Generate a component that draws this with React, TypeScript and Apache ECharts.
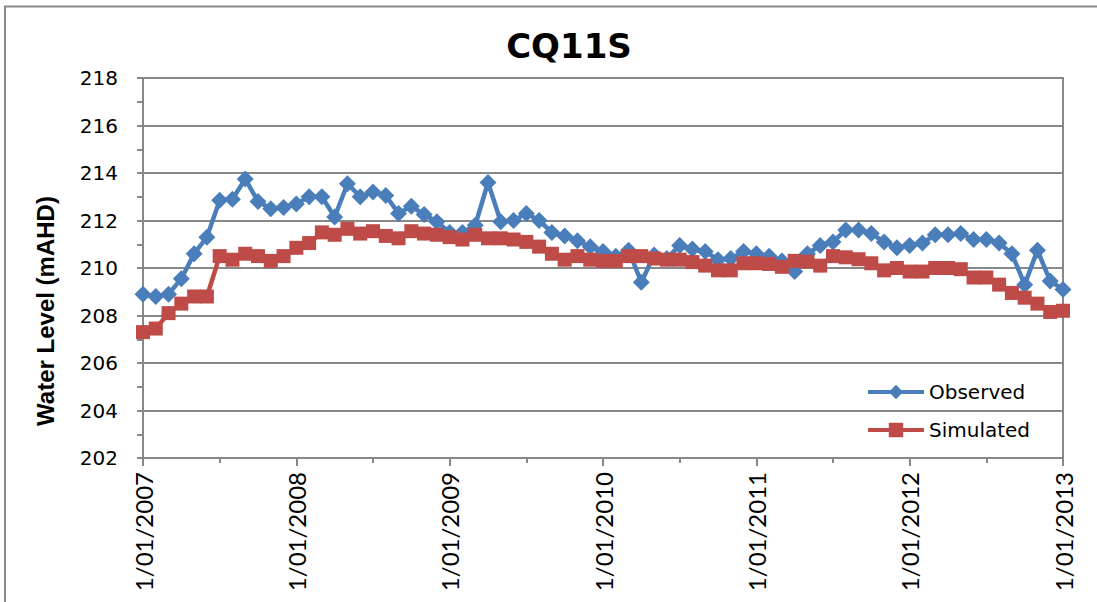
import React, { useEffect, useRef } from "react";
import * as echarts from "echarts";

const startYear = 2007;
const yearLabels = ["1/01/2007", "1/01/2008", "1/01/2009", "1/01/2010", "1/01/2011", "1/01/2012", "1/01/2013"];

const observed = [
  208.9, 208.8, 208.9, 209.55, 210.6, 211.3, 212.85, 212.9, 213.75, 212.8, 212.5, 212.55,
  212.7, 213.0, 213.0, 212.15, 213.55, 213.0, 213.2, 213.05, 212.3, 212.6, 212.25, 211.95,
  211.5, 211.5, 211.8, 213.6, 211.95, 212.0, 212.3, 212.0, 211.5, 211.35, 211.15, 210.9,
  210.7, 210.5, 210.75, 209.4, 210.55, 210.4, 210.95, 210.8, 210.7, 210.35, 210.4, 210.7,
  210.6, 210.5, 210.3, 209.85, 210.6, 210.95, 211.1, 211.6, 211.6, 211.45, 211.1, 210.85,
  210.95, 211.05, 211.4, 211.4, 211.45, 211.2, 211.2, 211.05, 210.6, 209.3, 210.75, 209.45,
  209.1,
];

const simulated = [
  207.3, 207.45, 208.1, 208.5, 208.8, 208.8, 210.5, 210.35, 210.6, 210.5, 210.3, 210.5,
  210.85, 211.05, 211.5, 211.4, 211.65, 211.45, 211.55, 211.35, 211.25, 211.55, 211.45, 211.4,
  211.3, 211.2, 211.4, 211.25, 211.25, 211.2, 211.1, 210.9, 210.6, 210.35, 210.5, 210.35,
  210.3, 210.3, 210.5, 210.5, 210.4, 210.35, 210.35, 210.25, 210.1, 209.9, 209.9, 210.2,
  210.2, 210.17, 210.05, 210.3, 210.27, 210.1, 210.5, 210.45, 210.37, 210.2, 209.9, 210.0,
  209.85, 209.85, 210.0, 210.0, 209.95, 209.6, 209.6, 209.3, 208.95, 208.75, 208.5, 208.15,
  208.2,
];

const GRAY = "#888888";
const BLUE = "#4A7EBB";
const RED = "#BE4B48";

export default function App() {
  const ref = useRef<HTMLDivElement>(null);
  useEffect(() => {
    if (!ref.current) return;
    const chart = echarts.init(ref.current, null, { renderer: "svg" });
    const toPairs = (arr: number[]) => arr.map((v, i) => [i, v]);
    chart.setOption({
      animation: false,
      backgroundColor: "#ffffff",
      grid: {
        left: 143,
        right: 34,
        top: 78,
        bottom: 144,
        show: true,
        borderColor: GRAY,
        borderWidth: 2,
      },
      xAxis: {
        type: "value",
        min: 0,
        max: 72,
        interval: 12,
        axisLine: { show: true, lineStyle: { color: GRAY, width: 2 } },
        axisTick: { show: true, length: 8, lineStyle: { color: GRAY, width: 2 } },
        minorTick: { show: true, splitNumber: 2, length: 5, lineStyle: { color: GRAY, width: 2 } },
        splitLine: { show: false },
        axisLabel: {
          rotate: 90,
          margin: 14,
          fontFamily: "Lato",
          fontSize: 24,
          color: "#000",
          formatter: (v: number) => yearLabels[Math.round(v / 12)] ?? `1/01/${startYear + v / 12}`,
        },
      },
      yAxis: {
        type: "value",
        min: 202,
        max: 218,
        interval: 2,
        axisLine: { show: true, lineStyle: { color: GRAY, width: 2 } },
        axisTick: { show: true, length: 6, lineStyle: { color: GRAY, width: 2 } },
        minorTick: { show: true, splitNumber: 2, length: 6, lineStyle: { color: GRAY, width: 2 } },
        splitLine: { show: true, lineStyle: { color: GRAY, width: 2 } },
        axisLabel: {
          margin: 25,
          fontFamily: "DejaVu Sans",
          fontSize: 20,
          color: "#000",
        },
      },
      legend: {
        orient: "vertical",
        left: 861,
        top: 377,
        itemWidth: 56,
        itemHeight: 18,
        itemGap: 18,
        lineStyle: { width: 4 },
        textStyle: { fontFamily: "DejaVu Sans", fontSize: 20, color: "#000" },
        data: ["Observed", "Simulated"],
      },
      graphic: [
        {
          type: "rect",
          shape: { x: 5, y: 6.5, width: 1200, height: 700 },
          style: { fill: "none", stroke: GRAY, lineWidth: 2 },
          silent: true,
          z: 100,
        },
        {
          type: "text",
          x: 569,
          y: 46,
          style: {
            text: "CQ11S",
            fontFamily: "DejaVu Sans",
            fontWeight: "bold",
            fontSize: 34,
            fill: "#000",
            textAlign: "center",
            textVerticalAlign: "middle",
          },
        },
        {
          type: "text",
          x: 45,
          y: 311,
          rotation: Math.PI / 2,
          style: {
            text: "Water Level (mAHD)",
            fontFamily: "Liberation Sans",
            fontWeight: "bold",
            fontSize: 24,
            fill: "#000",
            textAlign: "center",
            textVerticalAlign: "middle",
          },
        },
      ],
      series: [
        {
          name: "Observed",
          type: "line",
          data: toPairs(observed),
          symbol: "diamond",
          symbolSize: 17,
          lineStyle: { color: BLUE, width: 4.5 },
          itemStyle: { color: BLUE },
          z: 3,
        },
        {
          name: "Simulated",
          type: "line",
          data: toPairs(simulated),
          symbol: "rect",
          symbolSize: 14,
          lineStyle: { color: RED, width: 4.5 },
          itemStyle: { color: RED },
          z: 4,
        },
      ],
    });
    return () => chart.dispose();
  }, []);
  return (
    <div
      ref={ref}
      style={{ position: "fixed", left: 0, top: 0, width: 1097, height: 602 }}
    />
  );
}
